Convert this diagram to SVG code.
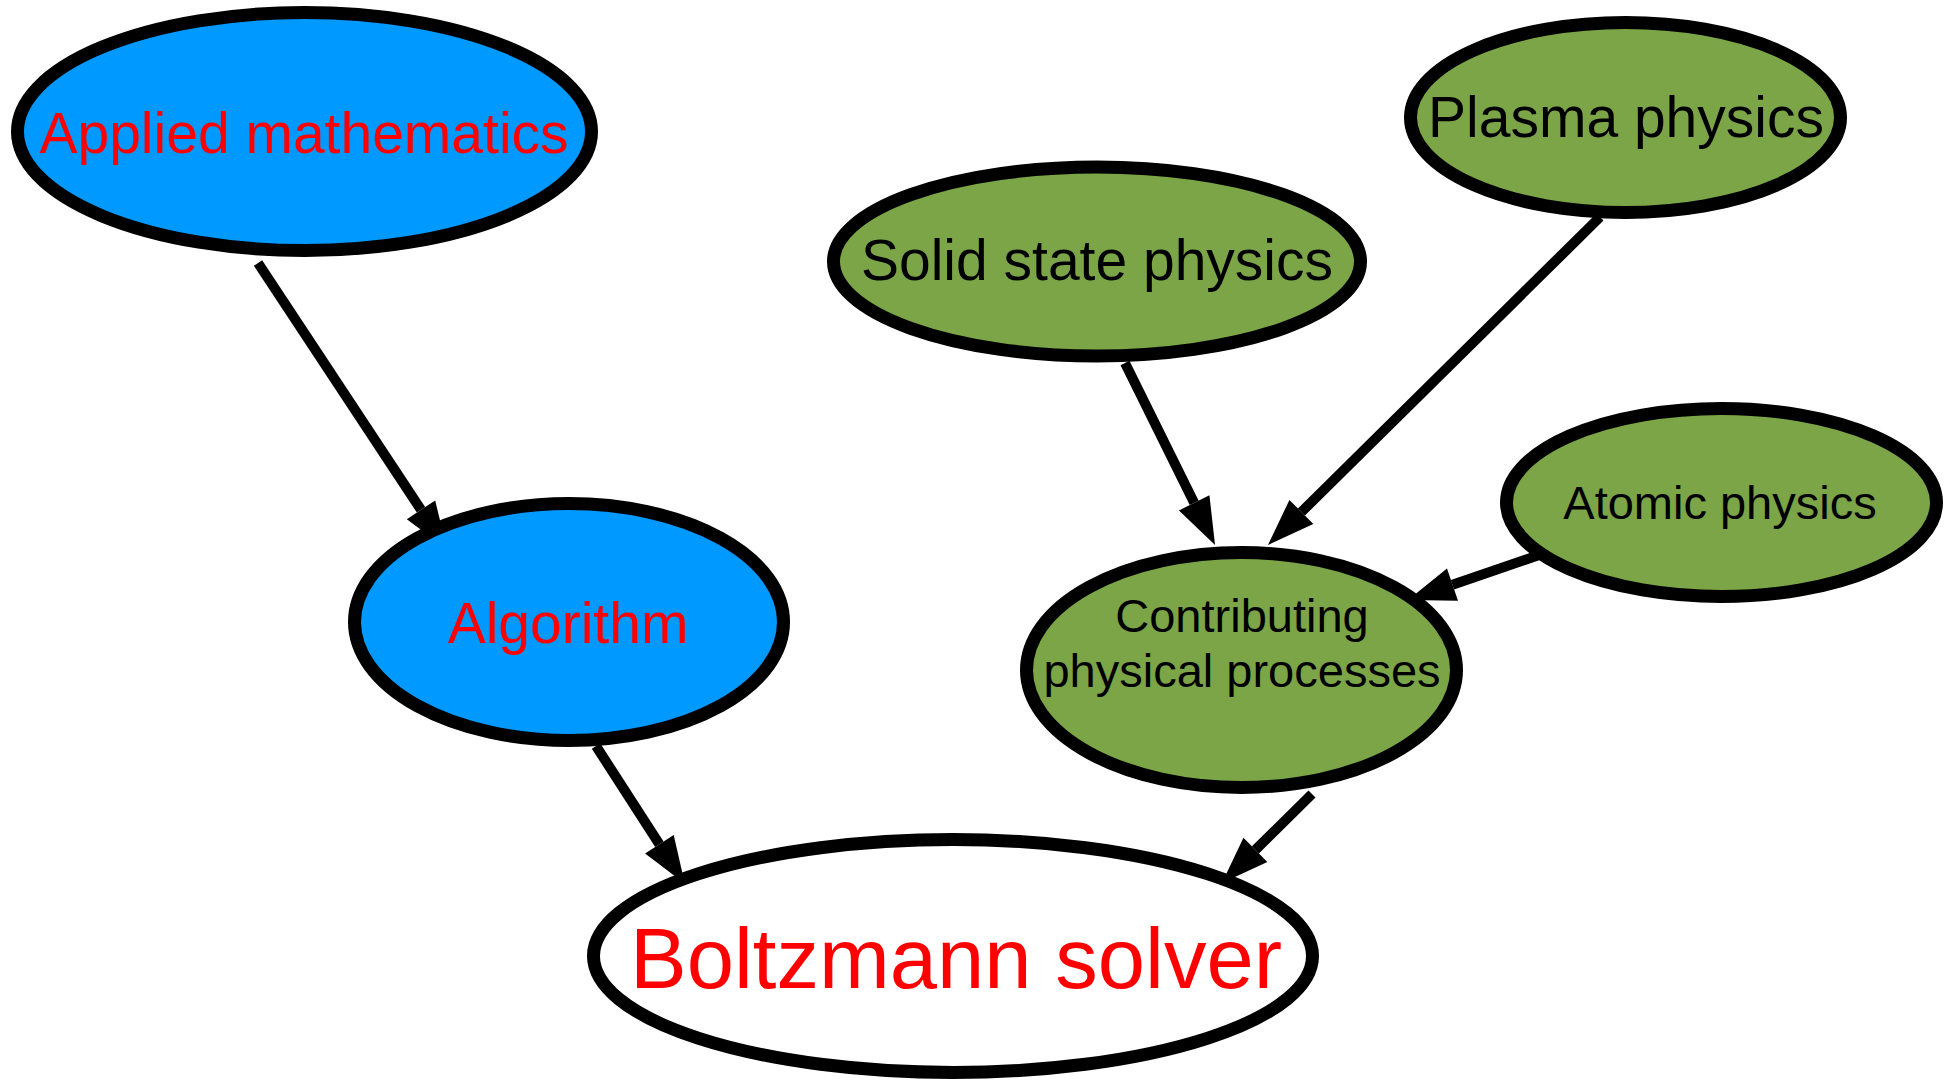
<svg xmlns="http://www.w3.org/2000/svg" width="1952" height="1083" viewBox="0 0 1952 1083">
<style>
.node{stroke:#000;stroke-width:13}
.blue{fill:#0099ff}
.green{fill:#7ba547}
.white{fill:#fff}
text{font-family:"Liberation Sans",Arial,sans-serif;text-anchor:middle}
.red{fill:#ff0000}
.blk{fill:#000}
.edge{stroke:#000;stroke-width:10;fill:none;marker-end:url(#arrow)}
</style>
<defs>
<marker id="arrow" markerUnits="userSpaceOnUse" markerWidth="47" markerHeight="34" refX="0" refY="17" orient="auto" overflow="visible">
<path d="M0,0 L47,17 L0,34 z" fill="#000"/>
</marker>
</defs>
<rect width="1952" height="1083" fill="#fff"/>
<g id="connectors">
<line class="edge" x1="258" y1="263" x2="421" y2="509.8"/>
<line class="edge" x1="596" y1="746" x2="659.4" y2="844.3"/>
<line class="edge" x1="1312" y1="794" x2="1255.4" y2="849.9"/>
<line class="edge" x1="1125" y1="363" x2="1194.2" y2="502.9"/>
<line class="edge" x1="1600" y1="217" x2="1301.4" y2="512"/>
<line class="edge" x1="1545" y1="553" x2="1452.5" y2="584.7"/>
</g>
<g id="applied-mathematics">
<ellipse class="node blue" cx="304.5" cy="131.5" rx="287" ry="119"/>
<text class="red" x="304" y="153" font-size="57">Applied mathematics</text>
</g>
<g id="algorithm">
<ellipse class="node blue" cx="569" cy="622" rx="214.5" ry="118.5"/>
<text class="red" x="568" y="643" font-size="57">Algorithm</text>
</g>
<g id="solid-state-physics">
<ellipse class="node green" cx="1097" cy="261.5" rx="263.5" ry="94.5"/>
<text class="blk" x="1097" y="280" font-size="57">Solid state physics</text>
</g>
<g id="plasma-physics">
<ellipse class="node green" cx="1625.5" cy="117.5" rx="215" ry="95"/>
<text class="blk" x="1626" y="137" font-size="57">Plasma physics</text>
</g>
<g id="atomic-physics">
<ellipse class="node green" cx="1721.5" cy="502.5" rx="215" ry="94"/>
<text class="blk" x="1720" y="519" font-size="47">Atomic physics</text>
</g>
<g id="contributing-physical-processes">
<ellipse class="node green" cx="1241.5" cy="670" rx="215" ry="117.5"/>
<text class="blk" x="1242" y="632" font-size="47">Contributing</text>
<text class="blk" x="1242" y="687" font-size="47">physical processes</text>
</g>
<g id="boltzmann-solver">
<ellipse class="node white" cx="953" cy="956" rx="359.5" ry="116.5"/>
<text class="red" x="956" y="988" font-size="85">Boltzmann solver</text>
</g>
</svg>
